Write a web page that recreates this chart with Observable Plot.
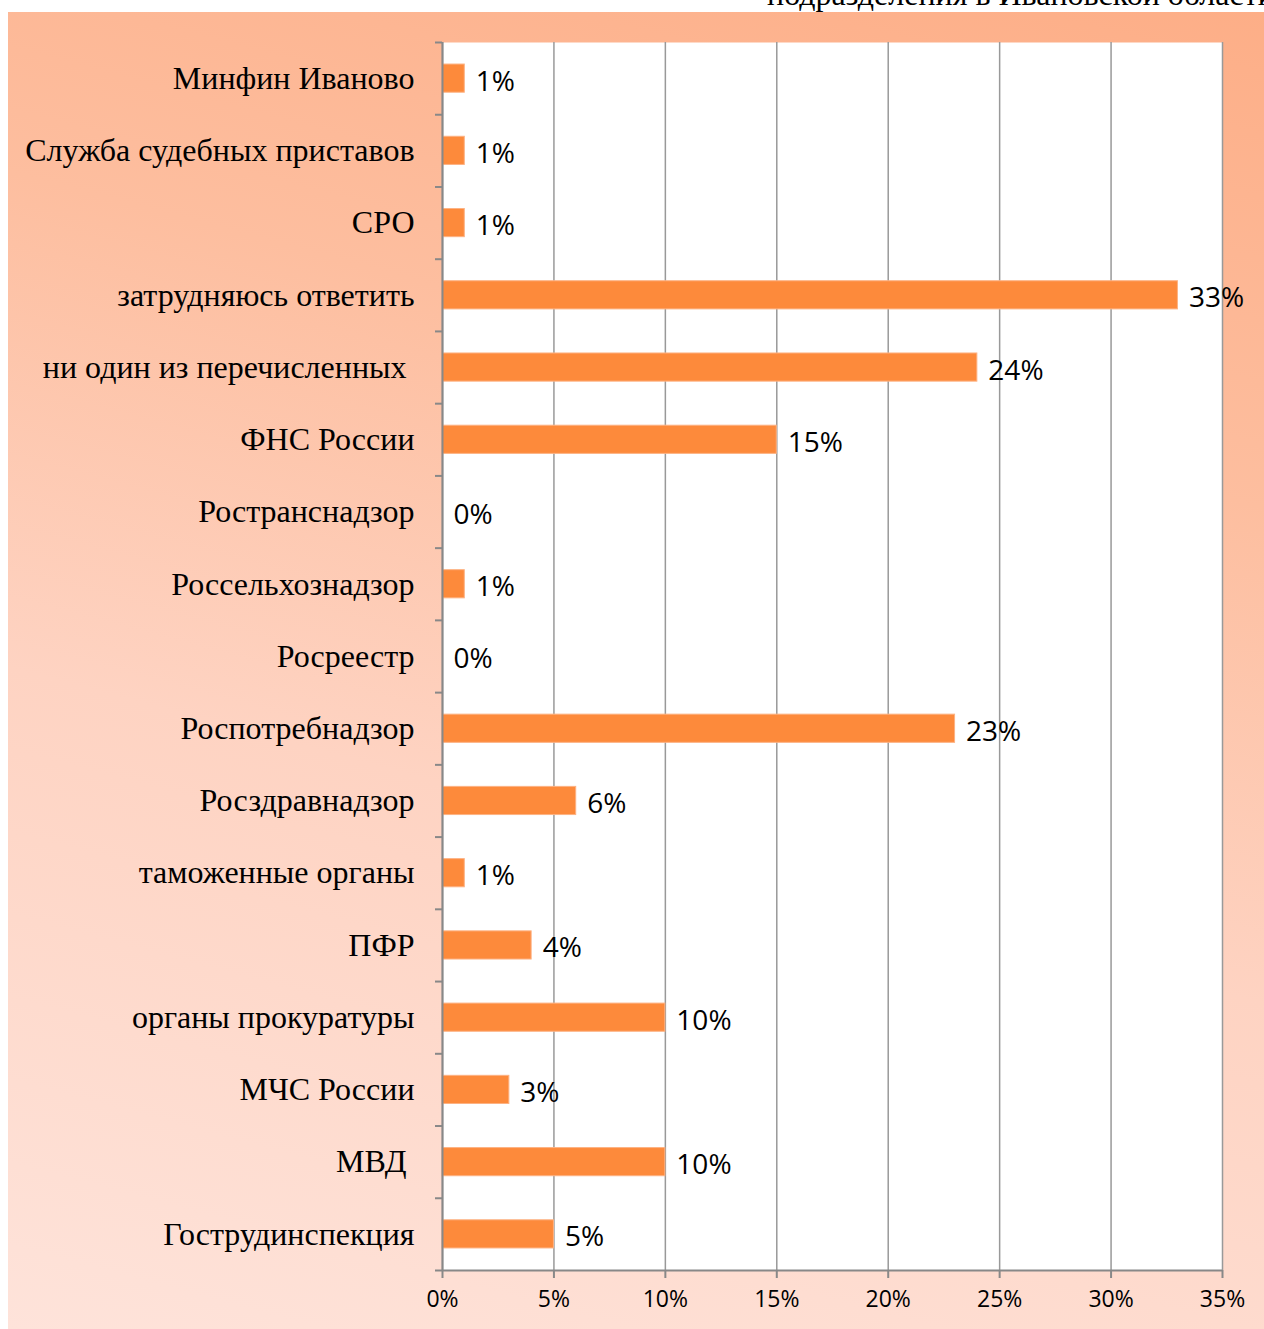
<!DOCTYPE html>
<html>
<head>
<meta charset="utf-8">
<script src="https://cdn.jsdelivr.net/npm/d3@7"></script>
<script src="https://cdn.jsdelivr.net/npm/@observablehq/plot@0.6"></script>
<style>
  html, body { margin: 0; padding: 0; background: #ffffff; width: 1264px; height: 1329px; overflow: hidden; }
  #bg { position: absolute; left: 8px; top: 12px; width: 1256px; height: 1317px;
        background: linear-gradient(195deg, #FDAE87 0%, #FDBE9F 30%, #FED3C2 60%, #FEE3DA 100%); }
  #title { position: absolute; left: 767px; top: -24px; font-family: "Liberation Serif", serif; font-size: 32px;
           white-space: nowrap; color: #000; }
  #chart { position: absolute; left: 0; top: 0; }
  #chart svg text { white-space: pre; }
</style>
</head>
<body>
<div id="title">подразделения в Ивановской области</div>
<div id="bg"></div>
<div id="chart"></div>
<script>
const categories = [
  "Минфин Иваново",
  "Служба судебных приставов",
  "СРО",
  "затрудняюсь ответить",
  "ни один из перечисленных ",
  "ФНС России",
  "Ространснадзор",
  "Россельхознадзор",
  "Росреестр",
  "Роспотребнадзор",
  "Росздравнадзор",
  "таможенные органы",
  "ПФР",
  "органы прокуратуры",
  "МЧС России",
  "МВД ",
  "Гострудинспекция"
];
const values = [1, 1, 1, 33, 24, 15, 0, 1, 0, 23, 6, 1, 4, 10, 3, 10, 5];
const xTicks = [0, 5, 10, 15, 20, 25, 30, 35];

const data = categories.map((name, i) => ({name, value: values[i], pos: i}));
const n = categories.length;

const sans = "'Open Sans', sans-serif";
const serif = "'Liberation Serif', 'Times New Roman', serif";

const chart = Plot.plot({
  width: 1264,
  height: 1329,
  marginLeft: 442,
  marginRight: 42,
  marginTop: 42,
  marginBottom: 59,
  style: {background: "transparent", overflow: "visible"},
  x: {domain: [0, 35]},
  y: {type: "linear", domain: [0, n], reverse: true},
  marks: [
    Plot.frame({fill: "white", stroke: null}),
    Plot.gridX(xTicks, {stroke: "#999999", strokeOpacity: 1, strokeWidth: 1.5}),
    Plot.rectX(data, {x1: 0, x2: "value", y1: d => d.pos + 0.305, y2: d => d.pos + 0.695,
      fill: "#FD8A3B", stroke: "#FDB283", strokeWidth: 1}),
    Plot.text(data, {x: "value", y: d => d.pos + 0.5, text: d => d.value + "%",
      textAnchor: "start", dx: 11, dy: 3, fontSize: 28, fontFamily: sans, fill: "#000"}),
    Plot.ruleX([0], {stroke: "#888888", strokeWidth: 2}),
    Plot.ruleY([n], {stroke: "#888888", strokeWidth: 2}),
    Plot.axisX({ticks: xTicks, tickSize: 8, tickPadding: 12, stroke: "#888888", strokeWidth: 2,
      tickFormat: d => d + "%", fontSize: 23, fontFamily: sans, fill: "#000", label: null}),
    Plot.axisY({ticks: d3.range(0, n + 1), tickSize: 7, stroke: "#888888", strokeWidth: 2,
      tickFormat: () => "", label: null}),
    Plot.axisY({ticks: data.map(d => d.pos + 0.5), tickSize: 0, tickPadding: 28,
      tickFormat: v => categories[Math.floor(v)], fontSize: 32, fontFamily: serif, fill: "#000", label: null})
  ]
});
document.getElementById("chart").appendChild(chart);
</script>
</body>
</html>
